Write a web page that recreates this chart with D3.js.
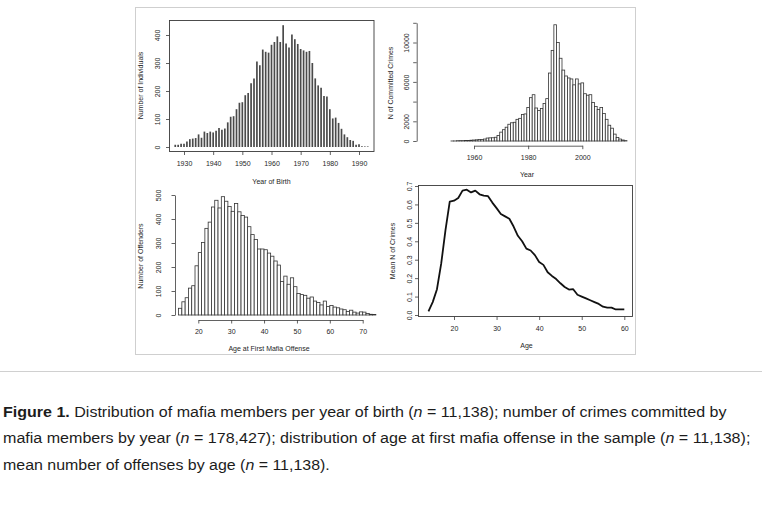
<!DOCTYPE html>
<html><head><meta charset="utf-8">
<script src="https://cdn.jsdelivr.net/npm/d3@7"></script>
<style>
body{margin:0;background:#fff}
svg{display:block}
text{font-family:"Liberation Sans",Arial,Helvetica,sans-serif;white-space:pre}
</style>
</head><body>
<svg id="c" width="762" height="505"></svg>
<script>
// ---------------- DATA ----------------
const birthYears = d3.range(1927, 1994);
const birthCounts = [8,8,12,12,20,28,30,32,45,33, 55,50,55,52,58,68,62,66,88,108,
  110,135,158,160,185,193,228,245,305,292, 348,340,337,365,375,395,375,435,370,355,
  402,385,368,350,345,340,343,300,245,220, 212,182,180,135,102,105,86,65,45,35,
  25,22,8,10,3,2,2];
const birthXTicks = [1930,1940,1950,1960,1970,1980,1990];
const birthYTicks = [0,100,200,300,400];

const crimeYears = d3.range(1943, 2017);
const crimeCounts = [0,0,0,0,0,0,0,0,0,2,5,
  30,40,40,60,60,80,100,120,150,160,200,300,320,330,380,550,
  900,1150,1400,1700,1850,1900,2200,2300,2700,2750,
  3400,4400,4700,3350,3100,3300,3800,4300,6900,9200,
  11800,10000,8400,7200,6600,6400,6300,5700,6300,5800,
  5900,4800,4650,4700,3900,3500,3200,3400,2800,2200,
  1600,1300,700,350,200,100,40];
const crimeXTicks = [1960,1980,2000];
const crimeYTicks = [0,2000,4000,6000,8000,10000,12000];
const crimeYLabels = ["0","2000","","6000","","10000",""];

const firstAges = d3.range(14, 74);
const firstAgeCounts = [28,55,72,112,122,205,260,302,361,387,
  450,478,446,493,474,452,432,465,430,415,
  408,368,335,315,275,275,272,258,245,225,
  208,140,162,128,155,118,90,85,82,70,
  75,58,52,42,58,35,40,33,30,25,
  22,15,20,12,8,13,12,6,3,2];
const firstXTicks = [20,30,40,50,60,70];
const firstYTicks = [0,100,200,300,400,500];

const meanAges = d3.range(14, 61);
const meanCrimes = [0.02,0.07,0.14,0.28,0.46,0.615,0.62,0.635,0.675,0.68,
  0.665,0.675,0.655,0.648,0.645,0.61,0.58,0.548,0.535,0.522,
  0.48,0.43,0.40,0.36,0.35,0.325,0.288,0.272,0.232,0.212,
  0.195,0.172,0.152,0.138,0.14,0.11,0.10,0.09,0.08,0.07,
  0.06,0.045,0.04,0.04,0.03,0.03,0.03];
const meanXTicks = [20,30,40,50,60];
const meanYTicks = [0,0.1,0.2,0.3,0.4,0.5,0.6,0.7];

const captionLines = [
  [{t:"Figure 1.",b:true},{t:" Distribution of mafia members per year of birth ("},{t:"n",i:true},{t:" = 11,138); number of crimes committed by"}],
  [{t:"mafia members by year ("},{t:"n",i:true},{t:" = 178,427); distribution of age at first mafia offense in the sample ("},{t:"n",i:true},{t:" = 11,138);"}],
  [{t:"mean number of offenses by age ("},{t:"n",i:true},{t:" = 11,138)."}]
];

// ---------------- DRAWING ----------------
const svg = d3.select("#c");
const ink = "#3a3a3a", txt = "#262626";
const FS = 7;

// outer figure frame and separator
svg.append("rect").attr("x",135.5).attr("y",7.5).attr("width",500).attr("height",347)
  .attr("fill","none").attr("stroke","#cfcfcf");
svg.append("line").attr("x1",0).attr("x2",762).attr("y1",371.5).attr("y2",371.5)
  .attr("stroke","#d0d0d0");

function styleAxis(g, keepDomain){
  g.selectAll("line").attr("stroke",ink).attr("stroke-width",0.8);
  g.select(".domain").attr("stroke",ink).attr("stroke-width",0.8);
  if(!keepDomain) g.select(".domain").remove();
  g.selectAll("text").attr("fill",txt).attr("font-size",FS).attr("font-family",null);
}
function bottomAxis(scale, ticks, y, keepDomain, fmt){
  const g = svg.append("g").attr("transform",`translate(0,${y})`)
    .call(d3.axisBottom(scale).tickValues(ticks).tickSize(3.5).tickSizeOuter(0).tickPadding(6)
      .tickFormat(fmt || d3.format("d")));
  styleAxis(g, keepDomain);
  return g;
}
function leftAxis(scale, ticks, x, keepDomain, labels, labelDist){
  const g = svg.append("g").attr("transform",`translate(${x},0)`)
    .call(d3.axisLeft(scale).tickValues(ticks).tickSize(3.5).tickSizeOuter(0)
      .tickFormat((d,i)=>labels[i]));
  styleAxis(g, keepDomain);
  g.selectAll(".tick text").attr("transform","rotate(-90)")
    .attr("x",0).attr("y",-labelDist).attr("dy",null).attr("text-anchor","middle");
  return g;
}
function yTitle(label, cx, cy){
  svg.append("text").attr("transform",`translate(${cx+2.5},${cy}) rotate(-90)`)
    .attr("text-anchor","middle").attr("font-size",FS).attr("fill",txt).text(label);
}
function xTitle(label, cx, cy){
  svg.append("text").attr("x",cx).attr("y",cy+2.5)
    .attr("text-anchor","middle").attr("font-size",FS).attr("fill",txt).text(label);
}

// ---- Panel 1: Year of birth ----
{
  const x = d3.scaleLinear().domain([1930,1990]).range([184,359]);
  const y = d3.scaleLinear().domain([0,400]).range([147,35]);
  svg.append("rect").attr("x",169.5).attr("y",20.5).attr("width",204.5).attr("height",131)
    .attr("fill","none").attr("stroke",ink).attr("stroke-width",0.9);
  svg.append("g").selectAll("line").data(birthYears).join("line")
    .attr("x1",d=>x(d)).attr("x2",d=>x(d))
    .attr("y1",y(0)).attr("y2",(d,i)=>y(birthCounts[i]))
    .attr("stroke","#4a4a4a").attr("stroke-width",1.7);
  bottomAxis(x, birthXTicks, 151.5, false);
  leftAxis(y, birthYTicks, 169.5, false, birthYTicks.map(String), 10);
  yTitle("Number of Individuals", 140, 85.5);
  xTitle("Year of Birth", 271.5, 181.5);
}

// ---- Panel 2: crimes by year ----
{
  const x = d3.scaleLinear().domain([1960,2000]).range([474,582.3]);
  const y = d3.scaleLinear().domain([0,12000]).range([141,22.8]);
  svg.append("g").selectAll("rect").data(crimeYears).join("rect")
    .attr("x",d=>x(d-0.5)).attr("width",d=>x(d+0.5)-x(d-0.5))
    .attr("y",(d,i)=>y(crimeCounts[i])).attr("height",(d,i)=>y(0)-y(crimeCounts[i]))
    .attr("fill","#fff").attr("stroke","#333").attr("stroke-width",0.8);
  bottomAxis(x, crimeXTicks, 145.7, true);
  leftAxis(y, crimeYTicks, 416.7, true, crimeYLabels, 7.5);
  yTitle("N of Committed Crimes", 390, 83);
  xTitle("Year", 527, 174);
}

// ---- Panel 3: age at first offense ----
{
  const x = d3.scaleLinear().domain([20,70]).range([198.3,362.7]);
  const y = d3.scaleLinear().domain([0,500]).range([315,195]);
  svg.append("g").selectAll("rect").data(firstAges).join("rect")
    .attr("x",d=>x(d)).attr("width",d=>x(d+1)-x(d))
    .attr("y",(d,i)=>y(firstAgeCounts[i])).attr("height",(d,i)=>y(0)-y(firstAgeCounts[i]))
    .attr("fill","#fff").attr("stroke","#333").attr("stroke-width",0.8);
  bottomAxis(x, firstXTicks, 320, true);
  leftAxis(y, firstYTicks, 175, true, firstYTicks.map(String), 14.5);
  yTitle("Number of Offenders", 140, 256);
  xTitle("Age at First Mafia Offense", 269, 348.5);
}

// ---- Panel 4: mean crimes by age ----
{
  const x = d3.scaleLinear().domain([20,60]).range([454,624.3]);
  const y = d3.scaleLinear().domain([0,0.7]).range([315,186]);
  svg.append("rect").attr("x",418.5).attr("y",185.5).attr("width",214).attr("height",131)
    .attr("fill","none").attr("stroke",ink).attr("stroke-width",0.9);
  const line = d3.line().x((d,i)=>x(meanAges[i])).y(d=>y(d));
  svg.append("path").datum(meanCrimes).attr("d",line)
    .attr("fill","none").attr("stroke","#111").attr("stroke-width",1.8).attr("stroke-linejoin","round");
  bottomAxis(x, meanXTicks, 316.5, false);
  leftAxis(y, meanYTicks, 418.5, false, meanYTicks.map(d3.format(".1f")), 7);
  yTitle("Mean N of Crimes", 392.3, 251);
  xTitle("Age", 526.5, 345);
}

// ---- Caption ----
{
  const widths = [724, 748, 327];
  const baselines = [416.5, 443, 469.5];
  captionLines.forEach((parts, li) => {
    const t = svg.append("text").attr("font-size",15).attr("fill","#1c1c1c");
    parts.forEach(p => {
      t.append("tspan").text(p.t)
        .attr("font-weight", p.b ? "bold" : null)
        .attr("font-style", p.i ? "italic" : null);
    });
    const len = t.node().getComputedTextLength();
    t.attr("transform", `translate(3,${baselines[li]}) scale(${widths[li]/len},1)`);
  });
}
</script>
</body></html>
